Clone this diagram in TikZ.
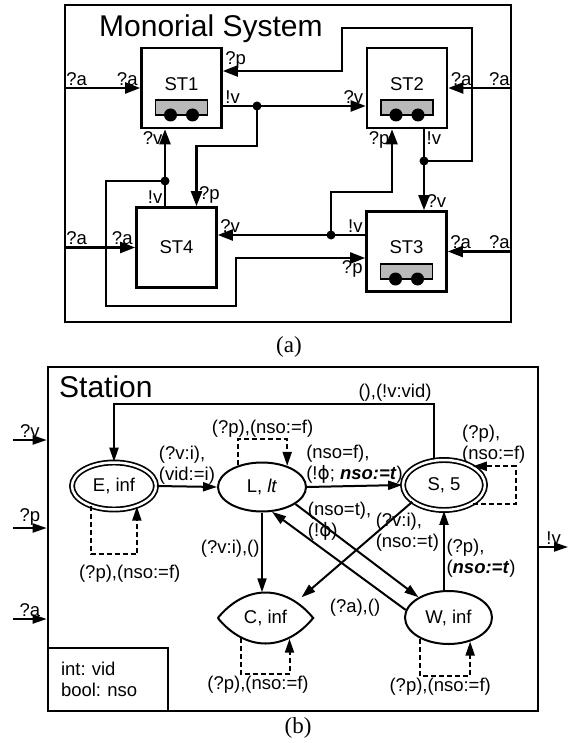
\documentclass[tikz,border=0pt]{standalone}
\usepackage{fontspec}
\setmainfont{Liberation Serif}
\setsansfont{Liberation Sans}
\newfontfamily\phifont{DejaVu Sans}
\usetikzlibrary{arrows.meta,shapes.geometric}
\frenchspacing

\begin{document}
\begin{tikzpicture}[
    x=1pt, y=-1pt,
    font=\sffamily\fontsize{18.5}{21}\selectfont,
    >={Triangle[length=14pt,width=9pt]},
    sysframe/.style={draw, line width=2.6pt, inner sep=0pt},
    title/.style={anchor=base west, inner sep=0pt, font=\sffamily\fontsize{30}{34}\selectfont},
    station/.style={draw, line width=2.6pt, minimum width=80pt, minimum height=80pt, inner sep=0pt},
    queued/.style={station, text depth=8pt},
    buffer/.style={draw, line width=1.2pt, fill=gray!55},
    dot/.style={circle, fill, inner sep=0pt, minimum size=9pt},
    wire/.style={-{Triangle[length=15pt,width=11pt]}, line width=2.3pt},
    lbl/.style={inner sep=1.5pt},
    state/.style={ellipse, draw, line width=2pt, inner sep=0pt},
    final/.style={state, double, double distance=2.5pt, line width=1.7pt},
    lens/.style={line width=2pt},
    trans/.style={->, line width=2pt},
    selfloop/.style={->, line width=2pt, dash pattern=on 5pt off 3pt},
    decl/.style={draw, line width=2.6pt, minimum width=120pt, minimum height=63pt, text width=94pt, inner xsep=13pt, align=left},
    caption/.style={font=\rmfamily\fontsize{23}{26}\selectfont}
]
\useasboundingbox (0,0) rectangle (575,743);

% (a) system of stations
\node[sysframe, minimum width=446pt, minimum height=317pt] (sys) at (288,163.5) {};
\node[title] (systitle) at (99,37) {Monorial System};

\node[queued] (st1) at (181.5,88) {ST1};
\node[queued] (st2) at (407,88) {ST2};
\node[queued] (st3) at (406.5,251.5) {ST3};
\node[station] (st4) at (176.5,247.5) {ST4};

\draw[buffer] (155.5,100) rectangle (207.5,115);
\fill (170.5,115) circle (6.5pt);
\fill (192.5,115) circle (6.5pt);
\draw[buffer] (381,100) rectangle (433,115);
\fill (396,115) circle (6.5pt);
\fill (418,115) circle (6.5pt);
\draw[buffer] (380.5,264) rectangle (432.5,279);
\fill (395.5,279) circle (6.5pt);
\fill (417.5,279) circle (6.5pt);

\node[dot] (j1) at (257,106) {};
\node[dot] (j2) at (424,161) {};
\node[dot] (j3) at (331,235) {};
\node[dot] (j4) at (165,181) {};

\draw[wire] (sys.west |- st1) node[lbl, above right]{?a} -- (st1.west) node[lbl, above left]{?a};
\draw[wire] (sys.west |- st4) node[lbl, above right]{?a} -- (st4.west) node[lbl, above left]{?a};
\draw[wire] (sys.east |- st2) node[lbl, above left]{?a} -- (st2.east) node[lbl, above right]{?a};
\draw[wire] (sys.east |- st3) node[lbl, above left]{?a} -- (st3.east) node[lbl, above right]{?a};

\draw[wire] (st1.east |- j1) node[lbl, above right]{!v} -- (st2.west |- j1) node[lbl, above left]{?v};
\draw[wire] (j1.center) -- ++(0,40) -| ([xshift=20pt]st4.north) node[lbl, above right]{?p};

\draw[wire] (st2.south -| j2) node[lbl, below right]{!v} -- (st3.north -| j2) node[lbl, above right]{?v};
\draw[wire] (j2.center) -- ++(48,0) -- ++(0,-133) -- ++(-130,0) |- ([yshift=17pt]st1.east) node[lbl, above right]{?p};

\draw[wire] (st3.west |- j3) node[lbl, above left]{!v} -- (st4.east |- j3) node[lbl, above right]{?v};
\draw[wire] (j3.center) -- ++(0,-43) -| ([xshift=-15pt]st2.south) node[lbl, below left]{?p};

\draw[wire] (st4.north -| j4) node[lbl, above left]{!v} -- (st1.south -| j4) node[lbl, below left]{?v};
\draw[wire] (j4.center) -- ++(-59,0) -- ++(0,125) -- ++(130,0) |- ([yshift=-6.5pt]st3.west) node[lbl, below left]{?p};

\node[caption] (capa) at (289,347) {(a)};

% (b) station automaton
\node[sysframe, minimum width=490pt, minimum height=344pt] (stn) at (293,539) {};
\node[title] (stntitle) at (59,397) {Station};
\coordinate (looptop) at (280,404);

\node[final, minimum width=84pt, minimum height=47pt] (e) at (114,486) {E, inf};
\node[state, minimum width=88pt, minimum height=49pt] (l) at (262,487) {L, \textit{lt}};
\node[final, minimum width=82pt, minimum height=50pt] (s) at (444,485) {S, 5};
\node[state, minimum width=87pt, minimum height=53pt] (w) at (448.5,617.5) {W, inf};
\node[inner sep=0pt, minimum width=95pt, minimum height=51pt] (c) at (265.5,618) {C, inf};
\draw[lens] (c.west) .. controls +(28,-34) and +(-28,-34) .. (c.east) .. controls +(-28,34) and +(28,34) .. (c.west);

\node[decl, anchor=south west] (vars) at (stn.south west) {int: vid\\bool: nso};

\coordinate (inv) at (13,440);
\coordinate (inp) at (13,528);
\coordinate (ina) at (13,619);
\coordinate (outv) at (568,547);

\draw[trans] (inv) -- node[lbl, above]{?v} (inv -| stn.west);
\draw[trans] (inp) -- node[lbl, above]{?p} (inp -| stn.west);
\draw[trans] (ina) -- node[lbl, above]{?a} (ina -| stn.west);
\draw[trans] (outv -| stn.east) -- node[lbl, above]{!v} (outv);

\draw[trans] ([xshift=-10pt]s.north) |- node[lbl, pos=0.5, above left]{(),(!v:vid)} (looptop -| e.north) -- (e.north);
\draw[trans] (e.east) -- node[lbl, above, align=left]{(?v:i),\\(vid:=i)} (l.west);
\draw[trans] (l.east) -- node[lbl, above, align=left]{(nso=f),\\(!{\phifont ϕ}; \textbf{\textit{nso:=t}})} (s.west);
\draw[trans] (l.south) -- node[lbl, pos=0.45, left]{(?v:i),()} (l.south |- c.north);
\draw[trans] (l.333) -- node[lbl, pos=0, anchor=north west, xshift=10pt, yshift=4pt, align=left]{(nso=t),\\(!{\phifont ϕ})} (w.146);
\draw[trans] (w.170) -- node[lbl, pos=0, anchor=east, xshift=-23pt, yshift=2pt]{(?a),()} (l.292);
\draw[trans] (s.208) -- node[lbl, pos=0, anchor=north west, xshift=-39pt, yshift=-9pt, align=left]{(?v:i),\\(nso:=t)} ([xshift=36pt,yshift=-5pt]c.north);
\draw[trans] (s.south |- w.north) -- node[lbl, pos=0.4, right, align=left]{(?p),\\(\textbf{\textit{nso:=t}})} (s.south);

\draw[selfloop] (e.221) -- ++(0,48) -| node[lbl, pos=0.25, below, xshift=16pt, yshift=-8pt]{(?p),(nso:=f)} (e.318);
\draw[selfloop] (l.138) -- ++(0,-26) -| node[lbl, pos=0.25, above]{(?p),(nso:=f)} (l.40);
\draw[selfloop] (s.-33) -- ++(43,0) |- node[lbl, pos=0.5, above left, xshift=12pt, align=left]{(?p),\\(nso:=f)} (s.33);
\draw[selfloop] ([xshift=-25pt,yshift=6pt]c.south) -- ++(0,36) -| node[lbl, pos=0.25, below, xshift=-7pt]{(?p),(nso:=f)} ([xshift=24pt,yshift=5pt]c.south);
\draw[selfloop] (w.217) -- ++(0,37) -| node[lbl, pos=0.25, below, xshift=-5pt]{(?p),(nso:=f)} (w.312);

\node[caption] (capb) at (298,728) {(b)};
\end{tikzpicture}
\end{document}
